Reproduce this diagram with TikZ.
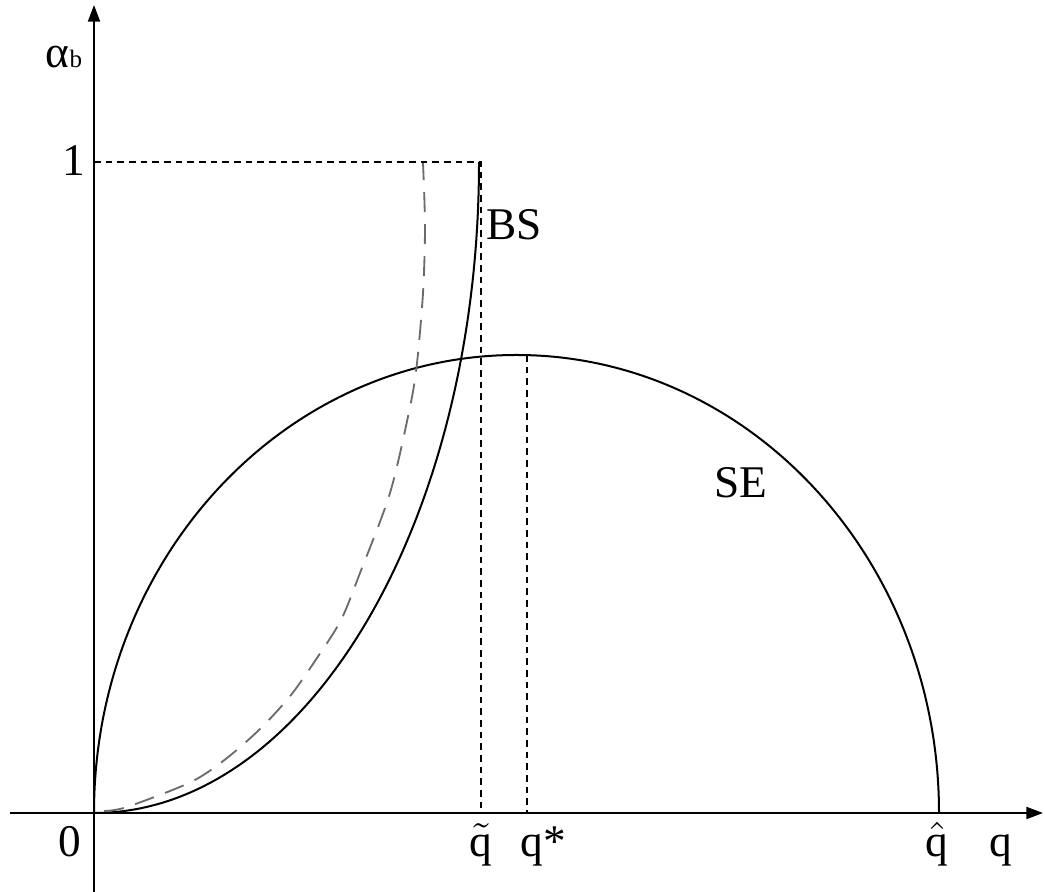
\documentclass[tikz,border=0pt]{standalone}
\usepackage{fontspec}
\setmainfont{Liberation Serif}
\usepackage{amsmath}
\usetikzlibrary{arrows.meta}

\begin{document}
\begin{tikzpicture}[
      x=0.3pt, y=0.3pt,
      >={Triangle[length=5pt, width=3.6pt]},
      axis/.style={->, line width=0.6pt},
      curve/.style={line width=0.6pt},
      guide/.style={line width=0.6pt, dash pattern=on 2pt off 1.5pt},
      shifted/.style={line width=0.55pt, black!58, dash pattern=on 6pt off 3.6pt},
      lab/.style={inner sep=0pt, anchor=base, font=\fontsize{13.6}{16}\selectfont}
    ]
    \useasboundingbox (0,0) rectangle (1045,892);

    % axes
    \coordinate (O) at (94,79);
    \coordinate (ybot) at (94,0);
    \coordinate (ytop) at (94,887);
    \coordinate (xleft) at (10,79);
    \coordinate (xright) at (1043,79);
    \draw[axis] (ybot) -- (ytop);
    \draw[axis] (xleft) -- (xright);

    % guide lines
    \coordinate (one) at (94,730);
    \coordinate (qtil) at (481,79);
    \coordinate (peak) at (527,537);
    \coordinate (qstar) at (527,79);
    \draw[guide] (one) -| (qtil);
    \draw[guide] (peak) -- (qstar);

    % SE and BS
    \draw[curve] (O) arc[start angle=180, end angle=0, x radius=422.5, y radius=458];
    \draw[curve] (O) arc[start angle=270, end angle=360, x radius=385, y radius=651];
    \draw[shifted] plot[smooth] coordinates {(104,81) (127,85) (191,110) (227,134) (261,164)
      (291,197) (317,234) (341,272) (360,319) (390,399) (410,485) (417,529) (423,599)
      (425,665) (423,729)};

    % labels
    \node[lab] (alpha) at (64,824) {α{\fontsize{7.5}{9}\selectfont b}};
    \node[lab] (lone) at (73.5,716) {1};
    \node[lab] (zero) at (70,35) {0};
    \node[lab] (lqt) at (481,35) {$\tilde{\text{q}}$};
    \node[lab, anchor=base west] (lqs) at (520,35) {q*};
    \node[lab] (lqh) at (937,35) {$\hat{\text{q}}$};
    \node[lab] (lq) at (1001,35) {q};
    \node[lab] (bs) at (514,652) {BS};
    \node[lab] (se) at (741,394) {SE};

  \end{tikzpicture}
\end{document}
